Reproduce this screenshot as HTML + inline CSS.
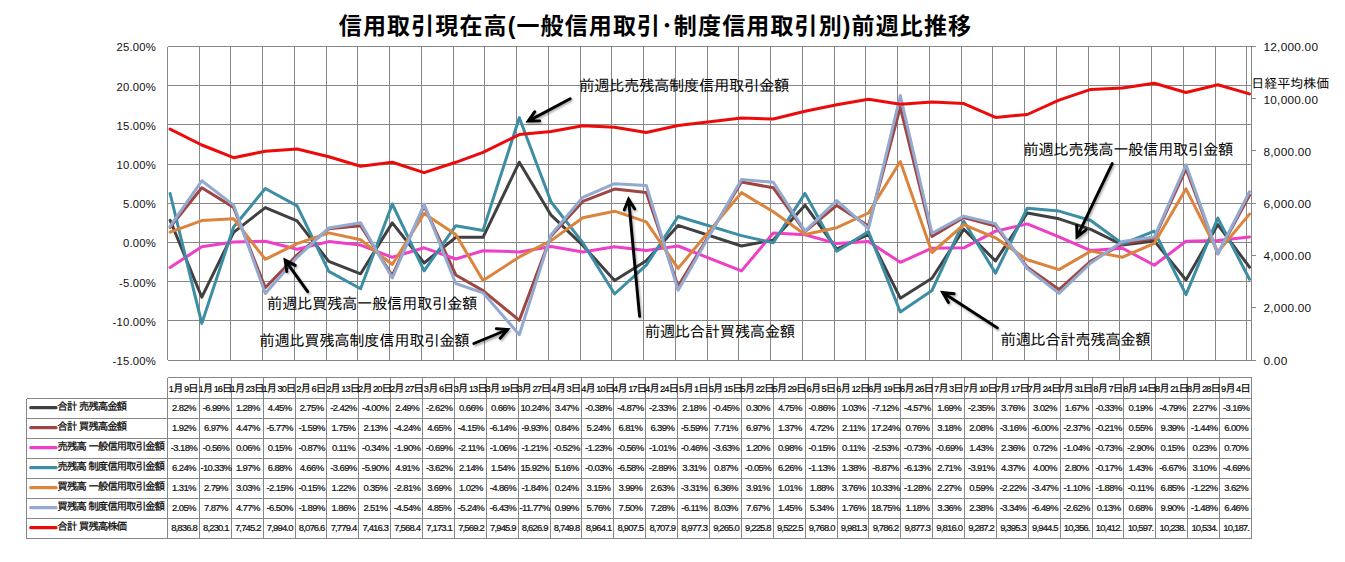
<!DOCTYPE html>
<html lang="ja"><head><meta charset="utf-8"><title>信用取引現在高 前週比推移</title>
<style>
html,body{margin:0;padding:0;background:#fff;}
body{width:1345px;height:562px;overflow:hidden;}
svg{display:block;}
.num{font-family:"Liberation Sans",sans-serif;fill:#111;}
.ax{font-size:11.3px;letter-spacing:0.2px;}
.ax2{font-size:11.8px;letter-spacing:0.25px;}
.jp{font-family:"Liberation Sans","IPAGothic","Noto Sans CJK JP",sans-serif;fill:#000;}
.ann{font-size:15.4px;letter-spacing:-0.4px;}
.ttl{font-family:"Liberation Sans","Noto Sans CJK JP",sans-serif;font-weight:bold;font-size:23px;letter-spacing:1.13px;fill:#000;}
.cell{font-family:"Liberation Sans",sans-serif;font-size:9.5px;letter-spacing:-0.62px;fill:#111;stroke:#111;stroke-width:0.22px;text-anchor:middle;}
.hd{font-family:"Liberation Sans","IPAGothic","Noto Sans CJK JP",sans-serif;font-size:10.67px;letter-spacing:-1.3px;fill:#000;stroke:#000;stroke-width:0.18px;text-anchor:middle;}
.hd .d{font-size:9.3px;letter-spacing:-1.0px;}
.lg{font-family:"Liberation Sans","IPAGothic","Noto Sans CJK JP",sans-serif;font-size:10.67px;letter-spacing:-1.2px;word-spacing:0.8px;fill:#000;stroke:#000;stroke-width:0.2px;}
.g{stroke:#878787;stroke-width:1;fill:none;shape-rendering:crispEdges;}
.s{fill:none;stroke-width:3;stroke-linejoin:round;stroke-linecap:round;}
.arr{fill:none;stroke:#000;stroke-width:2.9;stroke-linecap:round;stroke-linejoin:miter;}
</style></head><body>
<svg width="1345" height="562" viewBox="0 0 1345 562">
<rect x="0" y="0" width="1345" height="562" fill="#fff"/>
<text class="ttl" x="655.5" y="34.2" text-anchor="middle">信用取引現在高(一般信用取引･制度信用取引別)前週比推移</text>
<path class="g" d="M167.5 46.5H1251.5M167.5 85.5H1251.5M167.5 124.5H1251.5M167.5 164.5H1251.5M167.5 203.5H1251.5M167.5 242.5H1251.5M167.5 281.5H1251.5M167.5 320.5H1251.5M167.5 360.5H1251.5M167.5 46.5V360.0M199.5 46.5V360.0M230.5 46.5V360.0M262.5 46.5V360.0M294.5 46.5V360.0M326.5 46.5V360.0M357.5 46.5V360.0M389.5 46.5V360.0M421.5 46.5V360.0M453.5 46.5V360.0M484.5 46.5V360.0M516.5 46.5V360.0M548.5 46.5V360.0M580.5 46.5V360.0M611.5 46.5V360.0M643.5 46.5V360.0M675.5 46.5V360.0M707.5 46.5V360.0M738.5 46.5V360.0M770.5 46.5V360.0M802.5 46.5V360.0M834.5 46.5V360.0M865.5 46.5V360.0M897.5 46.5V360.0M929.5 46.5V360.0M961.5 46.5V360.0M992.5 46.5V360.0M1024.5 46.5V360.0M1056.5 46.5V360.0M1088.5 46.5V360.0M1119.5 46.5V360.0M1151.5 46.5V360.0M1183.5 46.5V360.0M1215.5 46.5V360.0M1246.5 46.5V360.0M1251.5 46.5V360.0M1251.5 360.5H1256.0M1251.5 307.5H1256.0M1251.5 255.5H1256.0M1251.5 203.5H1256.0M1251.5 150.5H1256.0M1251.5 98.5H1256.0M1251.5 46.5H1256.0"/>
<text class="num ax" x="156" y="51.4" text-anchor="end">25.00%</text>
<text class="num ax" x="156" y="90.5" text-anchor="end">20.00%</text>
<text class="num ax" x="156" y="129.7" text-anchor="end">15.00%</text>
<text class="num ax" x="156" y="168.9" text-anchor="end">10.00%</text>
<text class="num ax" x="156" y="208.1" text-anchor="end">5.00%</text>
<text class="num ax" x="156" y="247.3" text-anchor="end">0.00%</text>
<text class="num ax" x="156" y="286.5" text-anchor="end">-5.00%</text>
<text class="num ax" x="156" y="325.7" text-anchor="end">-10.00%</text>
<text class="num ax" x="156" y="364.9" text-anchor="end">-15.00%</text>
<text class="num ax2" x="1263.5" y="364.7">0.00</text>
<text class="num ax2" x="1263.5" y="312.4">2,000.00</text>
<text class="num ax2" x="1263.5" y="260.2">4,000.00</text>
<text class="num ax2" x="1263.5" y="207.9">6,000.00</text>
<text class="num ax2" x="1263.5" y="155.7">8,000.00</text>
<text class="num ax2" x="1263.5" y="103.5">10,000.00</text>
<text class="num ax2" x="1263.5" y="51.2">12,000.00</text>
<polyline class="s" stroke="#404040" points="170.1,220.3 201.8,297.2 233.6,232.4 265.3,207.6 297.1,220.9 328.8,261.4 360.6,273.8 392.3,222.9 424.1,263.0 455.8,237.3 483.0,237.3 519.3,162.2 551.1,215.2 582.8,245.4 614.6,280.6 646.3,260.7 678.1,225.4 741.5,246.0 773.3,240.1 805.0,205.2 836.8,249.2 868.5,234.4 900.3,298.2 932.0,278.3 963.8,229.2 995.5,260.9 1027.3,213.0 1059.0,218.8 1090.8,229.3 1122.5,245.0 1154.3,240.9 1186.0,280.0 1217.8,224.6 1249.5,267.2"/>
<polyline class="s" stroke="#9E4644" points="170.1,227.4 201.8,187.8 233.6,207.4 265.3,287.7 297.1,254.9 328.8,228.7 360.6,225.7 392.3,275.7 424.1,206.0 455.8,275.0 483.0,290.6 519.3,320.3 551.1,235.9 582.8,201.4 614.6,189.1 646.3,192.4 678.1,286.2 741.5,182.0 773.3,187.8 805.0,231.7 836.8,205.4 868.5,225.9 900.3,107.3 932.0,236.5 963.8,217.5 995.5,226.1 1027.3,267.2 1059.0,289.5 1090.8,261.0 1122.5,244.1 1154.3,238.1 1186.0,168.8 1217.8,253.7 1249.5,195.4"/>
<polyline class="s" stroke="#EE3FC6" points="170.1,267.4 201.8,246.8 233.6,242.0 265.3,241.3 297.1,249.3 328.8,241.6 360.6,245.1 392.3,257.3 424.1,247.8 455.8,259.0 483.0,250.7 519.3,251.9 551.1,246.5 582.8,252.1 614.6,246.8 646.3,250.4 678.1,246.0 741.5,270.9 773.3,233.0 805.0,234.8 836.8,243.6 868.5,241.6 900.3,262.3 932.0,248.2 963.8,247.8 995.5,231.2 1027.3,223.9 1059.0,236.8 1090.8,250.6 1122.5,248.2 1154.3,265.2 1186.0,241.3 1217.8,240.6 1249.5,237.0"/>
<polyline class="s" stroke="#3D8DA4" points="170.1,193.5 201.8,323.4 233.6,227.0 265.3,188.5 297.1,205.9 328.8,271.4 360.6,288.7 392.3,204.0 424.1,270.8 455.8,225.7 483.0,230.4 519.3,117.7 551.1,202.0 582.8,242.7 614.6,294.0 646.3,265.1 678.1,216.5 741.5,235.6 773.3,242.8 805.0,193.4 836.8,251.3 868.5,231.6 900.3,312.0 932.0,290.5 963.8,221.2 995.5,273.1 1027.3,208.2 1059.0,211.1 1090.8,220.5 1122.5,243.8 1154.3,231.2 1186.0,294.7 1217.8,218.1 1249.5,279.2"/>
<polyline class="s" stroke="#DB843D" points="170.1,232.2 201.8,220.6 233.6,218.7 265.3,259.3 297.1,243.6 328.8,232.9 360.6,239.7 392.3,264.5 424.1,213.5 455.8,234.4 483.0,280.5 519.3,256.9 551.1,240.6 582.8,217.7 614.6,211.2 646.3,221.8 678.1,268.4 741.5,192.6 773.3,211.8 805.0,234.5 836.8,227.7 868.5,213.0 900.3,161.5 932.0,252.5 963.8,224.6 995.5,237.8 1027.3,259.8 1059.0,269.6 1090.8,251.1 1122.5,257.2 1154.3,243.3 1186.0,188.8 1217.8,252.0 1249.5,214.1"/>
<polyline class="s" stroke="#93A9CF" points="170.1,226.4 201.8,180.8 233.6,205.1 265.3,293.4 297.1,257.3 328.8,227.9 360.6,222.8 392.3,278.0 424.1,204.4 455.8,283.5 483.0,292.8 519.3,334.7 551.1,234.7 582.8,197.3 614.6,183.7 646.3,185.4 678.1,290.3 741.5,179.5 773.3,182.3 805.0,231.1 836.8,200.6 868.5,228.6 900.3,95.5 932.0,233.2 963.8,216.1 995.5,223.8 1027.3,268.6 1059.0,293.3 1090.8,263.0 1122.5,241.4 1154.3,237.1 1186.0,164.8 1217.8,254.0 1249.5,191.8"/>
<polyline class="s" stroke="#EC0A0A" points="170.1,129.1 201.8,145.0 233.6,157.7 265.3,151.2 297.1,149.0 328.8,156.8 360.6,166.2 392.3,162.3 424.1,172.6 455.8,162.3 483.0,152.4 519.3,134.6 551.1,131.4 582.8,125.8 614.6,127.3 646.3,132.5 678.1,125.5 741.5,118.0 773.3,119.0 805.0,111.2 836.8,104.8 868.5,99.2 900.3,104.3 932.0,102.0 963.8,103.6 995.5,117.4 1027.3,114.5 1059.0,100.2 1090.8,89.4 1122.5,88.0 1154.3,83.2 1186.0,92.5 1217.8,84.8 1249.5,93.9"/>
<text class="jp ann" x="579.0" y="91.3">前週比売残高制度信用取引金額</text>
<text class="jp ann" x="267.0" y="309.3">前週比買残高一般信用取引金額</text>
<text class="jp ann" x="259.3" y="346.3">前週比買残高制度信用取引金額</text>
<text class="jp ann" x="644.8" y="337.3">前週比合計買残高金額</text>
<text class="jp ann" x="1000.4" y="345.3">前週比合計売残高金額</text>
<text class="jp ann" x="1023.2" y="155.3">前週比売残高一般信用取引金額</text>
<text class="jp" font-size="13px" x="1251.2" y="87.6">日経平均株価</text>
<defs><filter id="sh" x="-20%" y="-20%" width="140%" height="140%"><feGaussianBlur stdDeviation="0.9"/></filter></defs>
<g transform="translate(1.2,1.6)" opacity="0.35" filter="url(#sh)">
<path class="arr" d="M570.2 98.7L528.2 121.1M539.7 120.9L528.2 121.1L534.8 111.7"/>
<path class="arr" d="M307.7 291.7L285.1 260.1M286.8 271.5L285.1 260.1L295.3 265.4"/>
<path class="arr" d="M473.8 343.5L507.7 329.5M496.3 328.6L507.7 329.5L500.2 338.2"/>
<path class="arr" d="M639.6 316.4L628.6 199.2M624.3 209.9L628.6 199.2L634.7 208.9"/>
<path class="arr" d="M997.4 327.9L942.7 292.5M948.5 302.4L942.7 292.5L954.2 293.7"/>
<path class="arr" d="M1112.2 163.6L1077.0 236.9M1086.1 229.9L1077.0 236.9L1076.7 225.4"/>
</g>
<path class="arr" d="M570.2 98.7L528.2 121.1M539.7 120.9L528.2 121.1L534.8 111.7"/>
<path class="arr" d="M307.7 291.7L285.1 260.1M286.8 271.5L285.1 260.1L295.3 265.4"/>
<path class="arr" d="M473.8 343.5L507.7 329.5M496.3 328.6L507.7 329.5L500.2 338.2"/>
<path class="arr" d="M639.6 316.4L628.6 199.2M624.3 209.9L628.6 199.2L634.7 208.9"/>
<path class="arr" d="M997.4 327.9L942.7 292.5M948.5 302.4L942.7 292.5L954.2 293.7"/>
<path class="arr" d="M1112.2 163.6L1077.0 236.9M1086.1 229.9L1077.0 236.9L1076.7 225.4"/>
<path class="g" d="M167.5 377.5H1251.5M26.5 398.5H1251.5M26.5 418.5H1251.5M26.5 438.5H1251.5M26.5 458.5H1251.5M26.5 478.5H1251.5M26.5 498.5H1251.5M26.5 518.5H1251.5M26.5 538.5H1251.5M26.5 398.5V538.5M167.5 377.5V538.5M199.5 377.5V538.5M231.5 377.5V538.5M263.5 377.5V538.5M295.5 377.5V538.5M326.5 377.5V538.5M358.5 377.5V538.5M390.5 377.5V538.5M422.5 377.5V538.5M454.5 377.5V538.5M486.5 377.5V538.5M518.5 377.5V538.5M550.5 377.5V538.5M581.5 377.5V538.5M613.5 377.5V538.5M645.5 377.5V538.5M677.5 377.5V538.5M709.5 377.5V538.5M741.5 377.5V538.5M773.5 377.5V538.5M805.5 377.5V538.5M837.5 377.5V538.5M868.5 377.5V538.5M900.5 377.5V538.5M932.5 377.5V538.5M964.5 377.5V538.5M996.5 377.5V538.5M1028.5 377.5V538.5M1060.5 377.5V538.5M1092.5 377.5V538.5M1123.5 377.5V538.5M1155.5 377.5V538.5M1187.5 377.5V538.5M1219.5 377.5V538.5M1251.5 377.5V538.5"/>
<text class="hd" x="183.1" y="391.8"><tspan class="d">1</tspan>月<tspan class="d"> 9</tspan>日</text>
<text class="hd" x="215.0" y="391.8"><tspan class="d">1</tspan>月<tspan class="d"> 16</tspan>日</text>
<text class="hd" x="246.9" y="391.8"><tspan class="d">1</tspan>月<tspan class="d"> 23</tspan>日</text>
<text class="hd" x="278.8" y="391.8"><tspan class="d">1</tspan>月<tspan class="d"> 30</tspan>日</text>
<text class="hd" x="310.7" y="391.8"><tspan class="d">2</tspan>月<tspan class="d"> 6</tspan>日</text>
<text class="hd" x="342.6" y="391.8"><tspan class="d">2</tspan>月<tspan class="d"> 13</tspan>日</text>
<text class="hd" x="374.4" y="391.8"><tspan class="d">2</tspan>月<tspan class="d"> 20</tspan>日</text>
<text class="hd" x="406.3" y="391.8"><tspan class="d">2</tspan>月<tspan class="d"> 27</tspan>日</text>
<text class="hd" x="438.2" y="391.8"><tspan class="d">3</tspan>月<tspan class="d"> 6</tspan>日</text>
<text class="hd" x="470.1" y="391.8"><tspan class="d">3</tspan>月<tspan class="d"> 13</tspan>日</text>
<text class="hd" x="502.0" y="391.8"><tspan class="d">3</tspan>月<tspan class="d"> 19</tspan>日</text>
<text class="hd" x="533.8" y="391.8"><tspan class="d">3</tspan>月<tspan class="d"> 27</tspan>日</text>
<text class="hd" x="565.7" y="391.8"><tspan class="d">4</tspan>月<tspan class="d"> 3</tspan>日</text>
<text class="hd" x="597.6" y="391.8"><tspan class="d">4</tspan>月<tspan class="d"> 10</tspan>日</text>
<text class="hd" x="629.5" y="391.8"><tspan class="d">4</tspan>月<tspan class="d"> 17</tspan>日</text>
<text class="hd" x="661.4" y="391.8"><tspan class="d">4</tspan>月<tspan class="d"> 24</tspan>日</text>
<text class="hd" x="693.3" y="391.8"><tspan class="d">5</tspan>月<tspan class="d"> 1</tspan>日</text>
<text class="hd" x="725.1" y="391.8"><tspan class="d">5</tspan>月<tspan class="d"> 15</tspan>日</text>
<text class="hd" x="757.0" y="391.8"><tspan class="d">5</tspan>月<tspan class="d"> 22</tspan>日</text>
<text class="hd" x="788.9" y="391.8"><tspan class="d">5</tspan>月<tspan class="d"> 29</tspan>日</text>
<text class="hd" x="820.8" y="391.8"><tspan class="d">6</tspan>月<tspan class="d"> 5</tspan>日</text>
<text class="hd" x="852.7" y="391.8"><tspan class="d">6</tspan>月<tspan class="d"> 12</tspan>日</text>
<text class="hd" x="884.6" y="391.8"><tspan class="d">6</tspan>月<tspan class="d"> 19</tspan>日</text>
<text class="hd" x="916.4" y="391.8"><tspan class="d">6</tspan>月<tspan class="d"> 26</tspan>日</text>
<text class="hd" x="948.3" y="391.8"><tspan class="d">7</tspan>月<tspan class="d"> 3</tspan>日</text>
<text class="hd" x="980.2" y="391.8"><tspan class="d">7</tspan>月<tspan class="d"> 10</tspan>日</text>
<text class="hd" x="1012.1" y="391.8"><tspan class="d">7</tspan>月<tspan class="d"> 17</tspan>日</text>
<text class="hd" x="1044.0" y="391.8"><tspan class="d">7</tspan>月<tspan class="d"> 24</tspan>日</text>
<text class="hd" x="1075.8" y="391.8"><tspan class="d">7</tspan>月<tspan class="d"> 31</tspan>日</text>
<text class="hd" x="1107.7" y="391.8"><tspan class="d">8</tspan>月<tspan class="d"> 7</tspan>日</text>
<text class="hd" x="1139.6" y="391.8"><tspan class="d">8</tspan>月<tspan class="d"> 14</tspan>日</text>
<text class="hd" x="1171.5" y="391.8"><tspan class="d">8</tspan>月<tspan class="d"> 21</tspan>日</text>
<text class="hd" x="1203.4" y="391.8"><tspan class="d">8</tspan>月<tspan class="d"> 28</tspan>日</text>
<text class="hd" x="1235.3" y="391.8"><tspan class="d">9</tspan>月<tspan class="d"> 4</tspan>日</text>
<path d="M30.8 407.7H56" stroke="#404040" stroke-width="3.3" stroke-linecap="round" fill="none"/>
<text class="lg" x="57.3" y="410.4">合計 売残高金額</text>
<path d="M30.8 427.7H56" stroke="#9E4644" stroke-width="3.3" stroke-linecap="round" fill="none"/>
<text class="lg" x="57.3" y="430.4">合計 買残高金額</text>
<path d="M30.8 447.7H56" stroke="#EE3FC6" stroke-width="3.3" stroke-linecap="round" fill="none"/>
<text class="lg" x="57.3" y="450.4">売残高 一般信用取引金額</text>
<path d="M30.8 467.7H56" stroke="#3D8DA4" stroke-width="3.3" stroke-linecap="round" fill="none"/>
<text class="lg" x="57.3" y="470.4">売残高 制度信用取引金額</text>
<path d="M30.8 487.7H56" stroke="#DB843D" stroke-width="3.3" stroke-linecap="round" fill="none"/>
<text class="lg" x="57.3" y="490.4">買残高 一般信用取引金額</text>
<path d="M30.8 507.7H56" stroke="#93A9CF" stroke-width="3.3" stroke-linecap="round" fill="none"/>
<text class="lg" x="57.3" y="510.4">買残高 制度信用取引金額</text>
<path d="M30.8 527.7H56" stroke="#EC0A0A" stroke-width="3.3" stroke-linecap="round" fill="none"/>
<text class="lg" x="57.3" y="530.4">合計 買残高株価</text>
<text class="cell" x="184.0" y="411.0">2.82%</text>
<text class="cell" x="215.9" y="411.0">-6.99%</text>
<text class="cell" x="247.8" y="411.0">1.28%</text>
<text class="cell" x="279.7" y="411.0">4.45%</text>
<text class="cell" x="311.6" y="411.0">2.75%</text>
<text class="cell" x="343.5" y="411.0">-2.42%</text>
<text class="cell" x="375.3" y="411.0">-4.00%</text>
<text class="cell" x="407.2" y="411.0">2.49%</text>
<text class="cell" x="439.1" y="411.0">-2.62%</text>
<text class="cell" x="471.0" y="411.0">0.66%</text>
<text class="cell" x="502.9" y="411.0">0.66%</text>
<text class="cell" x="534.7" y="411.0">10.24%</text>
<text class="cell" x="566.6" y="411.0">3.47%</text>
<text class="cell" x="598.5" y="411.0">-0.38%</text>
<text class="cell" x="630.4" y="411.0">-4.87%</text>
<text class="cell" x="662.3" y="411.0">-2.33%</text>
<text class="cell" x="694.2" y="411.0">2.18%</text>
<text class="cell" x="726.0" y="411.0">-0.45%</text>
<text class="cell" x="757.9" y="411.0">0.30%</text>
<text class="cell" x="789.8" y="411.0">4.75%</text>
<text class="cell" x="821.7" y="411.0">-0.86%</text>
<text class="cell" x="853.6" y="411.0">1.03%</text>
<text class="cell" x="885.5" y="411.0">-7.12%</text>
<text class="cell" x="917.3" y="411.0">-4.57%</text>
<text class="cell" x="949.2" y="411.0">1.69%</text>
<text class="cell" x="981.1" y="411.0">-2.35%</text>
<text class="cell" x="1013.0" y="411.0">3.76%</text>
<text class="cell" x="1044.9" y="411.0">3.02%</text>
<text class="cell" x="1076.7" y="411.0">1.67%</text>
<text class="cell" x="1108.6" y="411.0">-0.33%</text>
<text class="cell" x="1140.5" y="411.0">0.19%</text>
<text class="cell" x="1172.4" y="411.0">-4.79%</text>
<text class="cell" x="1204.3" y="411.0">2.27%</text>
<text class="cell" x="1236.2" y="411.0">-3.16%</text>
<text class="cell" x="184.0" y="431.0">1.92%</text>
<text class="cell" x="215.9" y="431.0">6.97%</text>
<text class="cell" x="247.8" y="431.0">4.47%</text>
<text class="cell" x="279.7" y="431.0">-5.77%</text>
<text class="cell" x="311.6" y="431.0">-1.59%</text>
<text class="cell" x="343.5" y="431.0">1.75%</text>
<text class="cell" x="375.3" y="431.0">2.13%</text>
<text class="cell" x="407.2" y="431.0">-4.24%</text>
<text class="cell" x="439.1" y="431.0">4.65%</text>
<text class="cell" x="471.0" y="431.0">-4.15%</text>
<text class="cell" x="502.9" y="431.0">-6.14%</text>
<text class="cell" x="534.7" y="431.0">-9.93%</text>
<text class="cell" x="566.6" y="431.0">0.84%</text>
<text class="cell" x="598.5" y="431.0">5.24%</text>
<text class="cell" x="630.4" y="431.0">6.81%</text>
<text class="cell" x="662.3" y="431.0">6.39%</text>
<text class="cell" x="694.2" y="431.0">-5.59%</text>
<text class="cell" x="726.0" y="431.0">7.71%</text>
<text class="cell" x="757.9" y="431.0">6.97%</text>
<text class="cell" x="789.8" y="431.0">1.37%</text>
<text class="cell" x="821.7" y="431.0">4.72%</text>
<text class="cell" x="853.6" y="431.0">2.11%</text>
<text class="cell" x="885.5" y="431.0">17.24%</text>
<text class="cell" x="917.3" y="431.0">0.76%</text>
<text class="cell" x="949.2" y="431.0">3.18%</text>
<text class="cell" x="981.1" y="431.0">2.08%</text>
<text class="cell" x="1013.0" y="431.0">-3.16%</text>
<text class="cell" x="1044.9" y="431.0">-6.00%</text>
<text class="cell" x="1076.7" y="431.0">-2.37%</text>
<text class="cell" x="1108.6" y="431.0">-0.21%</text>
<text class="cell" x="1140.5" y="431.0">0.55%</text>
<text class="cell" x="1172.4" y="431.0">9.39%</text>
<text class="cell" x="1204.3" y="431.0">-1.44%</text>
<text class="cell" x="1236.2" y="431.0">6.00%</text>
<text class="cell" x="184.0" y="451.0">-3.18%</text>
<text class="cell" x="215.9" y="451.0">-0.56%</text>
<text class="cell" x="247.8" y="451.0">0.06%</text>
<text class="cell" x="279.7" y="451.0">0.15%</text>
<text class="cell" x="311.6" y="451.0">-0.87%</text>
<text class="cell" x="343.5" y="451.0">0.11%</text>
<text class="cell" x="375.3" y="451.0">-0.34%</text>
<text class="cell" x="407.2" y="451.0">-1.90%</text>
<text class="cell" x="439.1" y="451.0">-0.69%</text>
<text class="cell" x="471.0" y="451.0">-2.11%</text>
<text class="cell" x="502.9" y="451.0">-1.06%</text>
<text class="cell" x="534.7" y="451.0">-1.21%</text>
<text class="cell" x="566.6" y="451.0">-0.52%</text>
<text class="cell" x="598.5" y="451.0">-1.23%</text>
<text class="cell" x="630.4" y="451.0">-0.56%</text>
<text class="cell" x="662.3" y="451.0">-1.01%</text>
<text class="cell" x="694.2" y="451.0">-0.46%</text>
<text class="cell" x="726.0" y="451.0">-3.63%</text>
<text class="cell" x="757.9" y="451.0">1.20%</text>
<text class="cell" x="789.8" y="451.0">0.98%</text>
<text class="cell" x="821.7" y="451.0">-0.15%</text>
<text class="cell" x="853.6" y="451.0">0.11%</text>
<text class="cell" x="885.5" y="451.0">-2.53%</text>
<text class="cell" x="917.3" y="451.0">-0.73%</text>
<text class="cell" x="949.2" y="451.0">-0.69%</text>
<text class="cell" x="981.1" y="451.0">1.43%</text>
<text class="cell" x="1013.0" y="451.0">2.36%</text>
<text class="cell" x="1044.9" y="451.0">0.72%</text>
<text class="cell" x="1076.7" y="451.0">-1.04%</text>
<text class="cell" x="1108.6" y="451.0">-0.73%</text>
<text class="cell" x="1140.5" y="451.0">-2.90%</text>
<text class="cell" x="1172.4" y="451.0">0.15%</text>
<text class="cell" x="1204.3" y="451.0">0.23%</text>
<text class="cell" x="1236.2" y="451.0">0.70%</text>
<text class="cell" x="184.0" y="471.0">6.24%</text>
<text class="cell" x="215.9" y="471.0">-10.33%</text>
<text class="cell" x="247.8" y="471.0">1.97%</text>
<text class="cell" x="279.7" y="471.0">6.88%</text>
<text class="cell" x="311.6" y="471.0">4.66%</text>
<text class="cell" x="343.5" y="471.0">-3.69%</text>
<text class="cell" x="375.3" y="471.0">-5.90%</text>
<text class="cell" x="407.2" y="471.0">4.91%</text>
<text class="cell" x="439.1" y="471.0">-3.62%</text>
<text class="cell" x="471.0" y="471.0">2.14%</text>
<text class="cell" x="502.9" y="471.0">1.54%</text>
<text class="cell" x="534.7" y="471.0">15.92%</text>
<text class="cell" x="566.6" y="471.0">5.16%</text>
<text class="cell" x="598.5" y="471.0">-0.03%</text>
<text class="cell" x="630.4" y="471.0">-6.58%</text>
<text class="cell" x="662.3" y="471.0">-2.89%</text>
<text class="cell" x="694.2" y="471.0">3.31%</text>
<text class="cell" x="726.0" y="471.0">0.87%</text>
<text class="cell" x="757.9" y="471.0">-0.05%</text>
<text class="cell" x="789.8" y="471.0">6.26%</text>
<text class="cell" x="821.7" y="471.0">-1.13%</text>
<text class="cell" x="853.6" y="471.0">1.38%</text>
<text class="cell" x="885.5" y="471.0">-8.87%</text>
<text class="cell" x="917.3" y="471.0">-6.13%</text>
<text class="cell" x="949.2" y="471.0">2.71%</text>
<text class="cell" x="981.1" y="471.0">-3.91%</text>
<text class="cell" x="1013.0" y="471.0">4.37%</text>
<text class="cell" x="1044.9" y="471.0">4.00%</text>
<text class="cell" x="1076.7" y="471.0">2.80%</text>
<text class="cell" x="1108.6" y="471.0">-0.17%</text>
<text class="cell" x="1140.5" y="471.0">1.43%</text>
<text class="cell" x="1172.4" y="471.0">-6.67%</text>
<text class="cell" x="1204.3" y="471.0">3.10%</text>
<text class="cell" x="1236.2" y="471.0">-4.69%</text>
<text class="cell" x="184.0" y="491.0">1.31%</text>
<text class="cell" x="215.9" y="491.0">2.79%</text>
<text class="cell" x="247.8" y="491.0">3.03%</text>
<text class="cell" x="279.7" y="491.0">-2.15%</text>
<text class="cell" x="311.6" y="491.0">-0.15%</text>
<text class="cell" x="343.5" y="491.0">1.22%</text>
<text class="cell" x="375.3" y="491.0">0.35%</text>
<text class="cell" x="407.2" y="491.0">-2.81%</text>
<text class="cell" x="439.1" y="491.0">3.69%</text>
<text class="cell" x="471.0" y="491.0">1.02%</text>
<text class="cell" x="502.9" y="491.0">-4.86%</text>
<text class="cell" x="534.7" y="491.0">-1.84%</text>
<text class="cell" x="566.6" y="491.0">0.24%</text>
<text class="cell" x="598.5" y="491.0">3.15%</text>
<text class="cell" x="630.4" y="491.0">3.99%</text>
<text class="cell" x="662.3" y="491.0">2.63%</text>
<text class="cell" x="694.2" y="491.0">-3.31%</text>
<text class="cell" x="726.0" y="491.0">6.36%</text>
<text class="cell" x="757.9" y="491.0">3.91%</text>
<text class="cell" x="789.8" y="491.0">1.01%</text>
<text class="cell" x="821.7" y="491.0">1.88%</text>
<text class="cell" x="853.6" y="491.0">3.76%</text>
<text class="cell" x="885.5" y="491.0">10.33%</text>
<text class="cell" x="917.3" y="491.0">-1.28%</text>
<text class="cell" x="949.2" y="491.0">2.27%</text>
<text class="cell" x="981.1" y="491.0">0.59%</text>
<text class="cell" x="1013.0" y="491.0">-2.22%</text>
<text class="cell" x="1044.9" y="491.0">-3.47%</text>
<text class="cell" x="1076.7" y="491.0">-1.10%</text>
<text class="cell" x="1108.6" y="491.0">-1.88%</text>
<text class="cell" x="1140.5" y="491.0">-0.11%</text>
<text class="cell" x="1172.4" y="491.0">6.85%</text>
<text class="cell" x="1204.3" y="491.0">-1.22%</text>
<text class="cell" x="1236.2" y="491.0">3.62%</text>
<text class="cell" x="184.0" y="511.0">2.05%</text>
<text class="cell" x="215.9" y="511.0">7.87%</text>
<text class="cell" x="247.8" y="511.0">4.77%</text>
<text class="cell" x="279.7" y="511.0">-6.50%</text>
<text class="cell" x="311.6" y="511.0">-1.89%</text>
<text class="cell" x="343.5" y="511.0">1.86%</text>
<text class="cell" x="375.3" y="511.0">2.51%</text>
<text class="cell" x="407.2" y="511.0">-4.54%</text>
<text class="cell" x="439.1" y="511.0">4.85%</text>
<text class="cell" x="471.0" y="511.0">-5.24%</text>
<text class="cell" x="502.9" y="511.0">-6.43%</text>
<text class="cell" x="534.7" y="511.0">-11.77%</text>
<text class="cell" x="566.6" y="511.0">0.99%</text>
<text class="cell" x="598.5" y="511.0">5.76%</text>
<text class="cell" x="630.4" y="511.0">7.50%</text>
<text class="cell" x="662.3" y="511.0">7.28%</text>
<text class="cell" x="694.2" y="511.0">-6.11%</text>
<text class="cell" x="726.0" y="511.0">8.03%</text>
<text class="cell" x="757.9" y="511.0">7.67%</text>
<text class="cell" x="789.8" y="511.0">1.45%</text>
<text class="cell" x="821.7" y="511.0">5.34%</text>
<text class="cell" x="853.6" y="511.0">1.76%</text>
<text class="cell" x="885.5" y="511.0">18.75%</text>
<text class="cell" x="917.3" y="511.0">1.18%</text>
<text class="cell" x="949.2" y="511.0">3.36%</text>
<text class="cell" x="981.1" y="511.0">2.38%</text>
<text class="cell" x="1013.0" y="511.0">-3.34%</text>
<text class="cell" x="1044.9" y="511.0">-6.49%</text>
<text class="cell" x="1076.7" y="511.0">-2.62%</text>
<text class="cell" x="1108.6" y="511.0">0.13%</text>
<text class="cell" x="1140.5" y="511.0">0.68%</text>
<text class="cell" x="1172.4" y="511.0">9.90%</text>
<text class="cell" x="1204.3" y="511.0">-1.48%</text>
<text class="cell" x="1236.2" y="511.0">6.46%</text>
<text class="cell" style="letter-spacing:-0.85px" x="184.0" y="531.0">8,836.8</text>
<text class="cell" style="letter-spacing:-0.85px" x="215.9" y="531.0">8,230.1</text>
<text class="cell" style="letter-spacing:-0.85px" x="247.8" y="531.0">7,745.2</text>
<text class="cell" style="letter-spacing:-0.85px" x="279.7" y="531.0">7,994.0</text>
<text class="cell" style="letter-spacing:-0.85px" x="311.6" y="531.0">8,076.6</text>
<text class="cell" style="letter-spacing:-0.85px" x="343.5" y="531.0">7,779.4</text>
<text class="cell" style="letter-spacing:-0.85px" x="375.3" y="531.0">7,416.3</text>
<text class="cell" style="letter-spacing:-0.85px" x="407.2" y="531.0">7,568.4</text>
<text class="cell" style="letter-spacing:-0.85px" x="439.1" y="531.0">7,173.1</text>
<text class="cell" style="letter-spacing:-0.85px" x="471.0" y="531.0">7,569.2</text>
<text class="cell" style="letter-spacing:-0.85px" x="502.9" y="531.0">7,945.9</text>
<text class="cell" style="letter-spacing:-0.85px" x="534.7" y="531.0">8,626.9</text>
<text class="cell" style="letter-spacing:-0.85px" x="566.6" y="531.0">8,749.8</text>
<text class="cell" style="letter-spacing:-0.85px" x="598.5" y="531.0">8,964.1</text>
<text class="cell" style="letter-spacing:-0.85px" x="630.4" y="531.0">8,907.5</text>
<text class="cell" style="letter-spacing:-0.85px" x="662.3" y="531.0">8,707.9</text>
<text class="cell" style="letter-spacing:-0.85px" x="694.2" y="531.0">8,977.3</text>
<text class="cell" style="letter-spacing:-0.85px" x="726.0" y="531.0">9,265.0</text>
<text class="cell" style="letter-spacing:-0.85px" x="757.9" y="531.0">9,225.8</text>
<text class="cell" style="letter-spacing:-0.85px" x="789.8" y="531.0">9,522.5</text>
<text class="cell" style="letter-spacing:-0.85px" x="821.7" y="531.0">9,768.0</text>
<text class="cell" style="letter-spacing:-0.85px" x="853.6" y="531.0">9,981.3</text>
<text class="cell" style="letter-spacing:-0.85px" x="885.5" y="531.0">9,786.2</text>
<text class="cell" style="letter-spacing:-0.85px" x="917.3" y="531.0">9,877.3</text>
<text class="cell" style="letter-spacing:-0.85px" x="949.2" y="531.0">9,816.0</text>
<text class="cell" style="letter-spacing:-0.85px" x="981.1" y="531.0">9,287.2</text>
<text class="cell" style="letter-spacing:-0.85px" x="1013.0" y="531.0">9,395.3</text>
<text class="cell" style="letter-spacing:-0.85px" x="1044.9" y="531.0">9,944.5</text>
<text class="cell" style="letter-spacing:-0.85px" x="1076.7" y="531.0">10,356.</text>
<text class="cell" style="letter-spacing:-0.85px" x="1108.6" y="531.0">10,412.</text>
<text class="cell" style="letter-spacing:-0.85px" x="1140.5" y="531.0">10,597.</text>
<text class="cell" style="letter-spacing:-0.85px" x="1172.4" y="531.0">10,238.</text>
<text class="cell" style="letter-spacing:-0.85px" x="1204.3" y="531.0">10,534.</text>
<text class="cell" style="letter-spacing:-0.85px" x="1236.2" y="531.0">10,187.</text>
</svg></body></html>
